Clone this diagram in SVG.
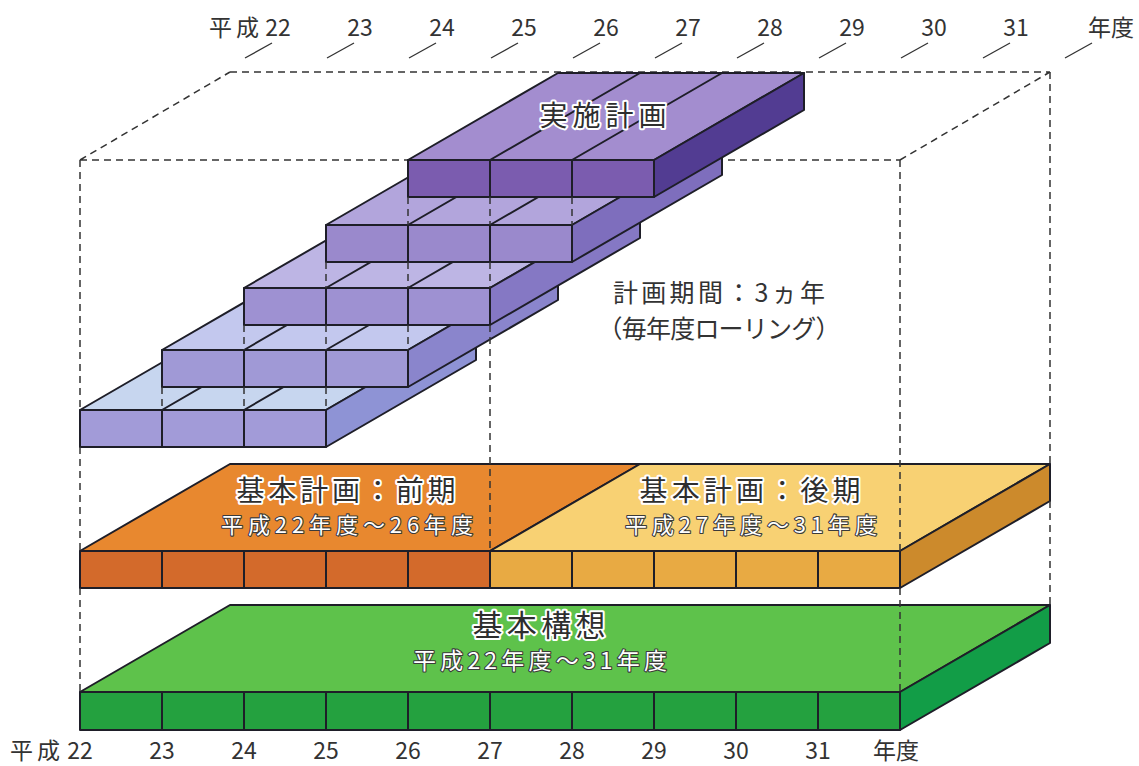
<svg xmlns="http://www.w3.org/2000/svg" width="1139" height="766" viewBox="0 0 1139 766">
<style>
  .o{stroke:#1e1e28;stroke-width:2;stroke-linejoin:round}
  .d{stroke:#1e1e28;stroke-width:2;fill:none}
  .dash{stroke:#333;stroke-width:1.5;stroke-dasharray:7 5;fill:none}
  .tick{stroke:#333;stroke-width:1.3}
  .lab{font-family:"Noto Sans CJK JP","Noto Sans",sans-serif;font-size:23px;fill:#333}
  .ttl{font-family:"Noto Sans CJK JP","Noto Sans",sans-serif;fill:#2e2e2e;stroke:#fff;stroke-width:4;paint-order:stroke;stroke-linejoin:round;text-anchor:middle}
  .sub{font-family:"Noto Sans CJK JP","Noto Sans",sans-serif;fill:#fff;stroke:#3a3a3a;stroke-width:2.2;paint-order:stroke;stroke-linejoin:round;text-anchor:middle}
  .note{font-family:"Noto Sans CJK JP","Noto Sans",sans-serif;font-size:25px;fill:#333;text-anchor:middle}
</style>
<rect width="1139" height="766" fill="#fff"/>

<!-- box dashed edges (behind) -->
<g id="frame">
  <path class="dash" d="M230,72 H1050 M80,160 H900 M80,160 L230,72 M900,160 L1050,72"/>
</g>

<!-- axis labels -->
<g id="top-axis">
  <g class="tick">
    <line x1="245" y1="58" x2="272" y2="43"/><line x1="327" y1="58" x2="354" y2="43"/><line x1="409" y1="58" x2="436" y2="43"/>
    <line x1="491" y1="58" x2="518" y2="43"/><line x1="573" y1="58" x2="600" y2="43"/><line x1="655" y1="58" x2="682" y2="43"/>
    <line x1="737" y1="58" x2="764" y2="43"/><line x1="819" y1="58" x2="846" y2="43"/><line x1="901" y1="58" x2="928" y2="43"/>
    <line x1="983" y1="58" x2="1010" y2="43"/><line x1="1065" y1="58" x2="1092" y2="43"/>
  </g>
  <text class="lab" x="209" y="36" textLength="50" lengthAdjust="spacing">平成</text>
  <g class="lab" text-anchor="middle">
    <text x="278" y="36">22</text>
    <text x="360" y="36">23</text><text x="442" y="36">24</text><text x="524" y="36">25</text>
    <text x="606" y="36">26</text><text x="688" y="36">27</text><text x="770" y="36">28</text>
    <text x="852" y="36">29</text><text x="934" y="36">30</text><text x="1016" y="36">31</text>
    <text x="1111" y="36">年度</text>
  </g>
</g>
<g id="bottom-axis">
  <text class="lab" x="10" y="759" textLength="50" lengthAdjust="spacing">平成</text>
  <g class="lab" text-anchor="middle">
    <text x="80" y="759">22</text>
    <text x="162" y="759">23</text><text x="244" y="759">24</text><text x="326" y="759">25</text>
    <text x="408" y="759">26</text><text x="490" y="759">27</text><text x="572" y="759">28</text>
    <text x="654" y="759">29</text><text x="736" y="759">30</text><text x="818" y="759">31</text>
    <text x="896" y="759">年度</text>
  </g>
</g>

<!-- green slab: 基本構想 -->
<g id="kihon-kousou">
  <polygon class="o" fill="#5ec24b" points="80,692 230,605 1050,605 900,692"/>
  <polygon class="o" fill="#129d47" points="900,692 1050,605 1050,643 900,730"/>
  <rect class="o" fill="#24a13f" x="80" y="692" width="820" height="38"/>
  <path class="d" d="M162,692V730M244,692V730M326,692V730M408,692V730M490,692V730M572,692V730M654,692V730M736,692V730M818,692V730"/>
  <text class="ttl" x="539" y="636" font-size="30" textLength="133" lengthAdjust="spacing">基本構想</text>
  <text class="sub" x="540" y="669" font-size="23" textLength="254" lengthAdjust="spacing">平成22年度～31年度</text>
</g>

<!-- orange slab: 基本計画 -->
<g id="kihon-keikaku">
  <polygon class="o" fill="#e8882f" points="80,551 230,464 640,464 490,551"/>
  <polygon class="o" fill="#f8d173" points="490,551 640,464 1050,464 900,551"/>
  <polygon class="o" fill="#cc8a2c" points="900,551 1050,464 1050,501 900,588"/>
  <rect class="o" fill="#d36a2b" x="80" y="551" width="410" height="37"/>
  <rect class="o" fill="#e8aa43" x="490" y="551" width="410" height="37"/>
  <path class="d" d="M162,551V588M244,551V588M326,551V588M408,551V588M572,551V588M654,551V588M736,551V588M818,551V588"/>
  <text class="ttl" x="346" y="501" font-size="28" textLength="219" lengthAdjust="spacing">基本計画：前期</text>
  <text class="sub" x="347" y="533" font-size="22" textLength="252" lengthAdjust="spacing">平成22年度～26年度</text>
  <text class="ttl" x="750" y="501" font-size="28" textLength="221" lengthAdjust="spacing">基本計画：後期</text>
  <text class="sub" x="751" y="533" font-size="22" textLength="252" lengthAdjust="spacing">平成27年度～31年度</text>
</g>

<!-- purple rolling blocks: 実施計画 -->
<g id="jisshi-1">
  <polygon class="o" fill="#c7d6ef" points="80,410 230,323 476,323 326,410"/>
  <polygon class="o" fill="#8e93d5" points="326,410 476,323 476,360 326,447"/>
  <rect class="o" fill="#a29bd8" x="80" y="410" width="246" height="37"/>
  <path class="d" d="M162,410L312,323M244,410L394,323M162,410V447M244,410V447"/>
</g>
<g id="jisshi-2">
  <polygon class="o" fill="#c3c8ee" points="162,350 312,263 558,263 408,350"/>
  <polygon class="o" fill="#8a85cc" points="408,350 558,263 558,300 408,387"/>
  <rect class="o" fill="#a099d6" x="162" y="350" width="246" height="37"/>
  <path class="d" d="M244,350L394,263M326,350L476,263M244,350V387M326,350V387"/>
</g>
<g id="jisshi-3">
  <polygon class="o" fill="#bdb5e4" points="244,288 394,201 640,201 490,288"/>
  <polygon class="o" fill="#8578c4" points="490,288 640,201 640,238 490,325"/>
  <rect class="o" fill="#9e91d2" x="244" y="288" width="246" height="37"/>
  <path class="d" d="M326,288L476,201M408,288L558,201M326,288V325M408,288V325"/>
</g>
<g id="jisshi-4">
  <polygon class="o" fill="#b2a5dc" points="326,225 476,138 722,138 572,225"/>
  <polygon class="o" fill="#7e6ebd" points="572,225 722,138 722,175 572,262"/>
  <rect class="o" fill="#9a89cc" x="326" y="225" width="246" height="37"/>
  <path class="d" d="M408,225L558,138M490,225L640,138M408,225V262M490,225V262"/>
</g>
<g id="jisshi-5">
  <polygon class="o" fill="#a38dcf" points="408,160 558,73 804,73 654,160"/>
  <polygon class="o" fill="#523c92" points="654,160 804,73 804,110 654,197"/>
  <rect class="o" fill="#7b5caf" x="408" y="160" width="246" height="37"/>
  <path class="d" d="M490,160L640,73M572,160L722,73M490,160V197M572,160V197"/>
  <text class="ttl" x="603" y="126" font-size="28" textLength="127" lengthAdjust="spacing">実施計画</text>
</g>

<!-- vertical guide dashes (on top) -->
<g id="connectors">
  <path class="dash" d="M80,160V410M80,447V551M80,588V692
    M162,387V410
    M244,325V350M244,387V410
    M326,262V288M326,325V350M326,387V410
    M408,197V225M408,262V288M408,325V350
    M490,197V225M490,262V288M490,325V551
    M572,197V225
    M900,160V551M900,588V692
    M1050,72V464M1050,501V605"/>
</g>

<g id="note">
  <text class="note" x="719" y="302" textLength="212" lengthAdjust="spacing">計画期間：3ヵ年</text>
  <text class="note" x="719" y="338" textLength="243" lengthAdjust="spacing">（毎年度ローリング）</text>
</g>
</svg>
